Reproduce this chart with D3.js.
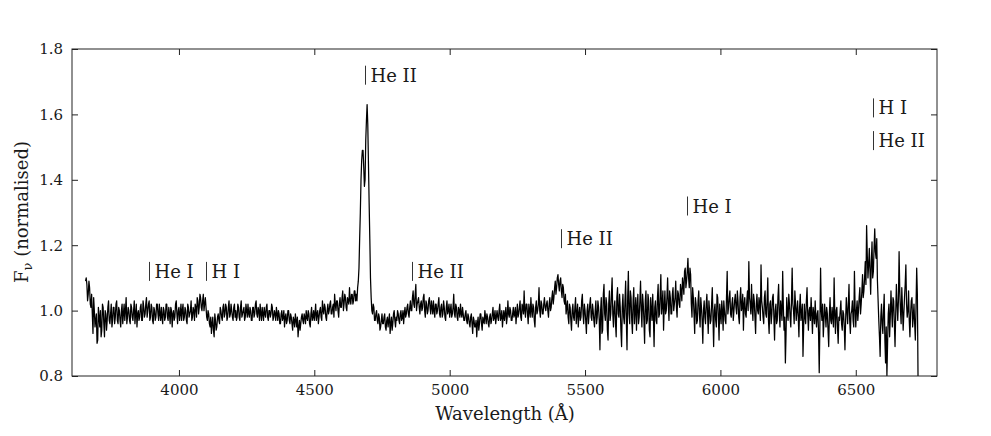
<!DOCTYPE html>
<html><head><meta charset="utf-8">
<script src="https://cdn.jsdelivr.net/npm/d3@7"></script>
<style>
body{margin:0;background:#fff}
svg{display:block}
svg text{font-family:"DejaVu Serif","Liberation Serif","Noto Serif",serif;fill:#1a1a1a}
</style>
</head><body>
<svg id="chart" width="991" height="436"></svg>
<script>
// ---- data ----
const wavelengthStart = 3655;   // Å, first sample
const wavelengthStep = 5;       // Å between samples of `flux`
// samples at 3655, 3660, ... 6730 Å
const flux = [
  1.09,1.08,1.05,1.07,1.01,0.99,1.04,0.95,0.99,0.91,0.98,1.00,0.94,1.01,0.92,0.99,0.97,1.03,0.96,1.02,
  0.97,1.01,0.98,1.03,0.96,1.00,0.95,1.02,0.99,0.97,1.04,0.98,1.00,0.96,1.01,0.97,1.03,0.99,0.95,1.00,
  0.98,1.02,0.97,1.01,0.99,1.04,1.00,1.03,0.98,1.01,0.96,1.00,0.98,1.02,0.97,0.99,1.01,0.96,1.00,0.98,
  1.02,0.97,0.99,1.01,0.95,1.00,0.98,1.03,0.96,1.01,0.99,0.97,1.02,0.98,1.00,0.96,1.01,0.99,1.03,0.98,
  1.00,1.02,0.98,1.03,1.01,1.04,1.00,1.05,1.02,1.01,0.97,0.99,0.95,0.93,0.98,0.92,0.97,0.95,0.99,0.96,
  1.00,0.97,1.02,0.99,1.01,0.98,1.03,0.99,1.00,0.97,1.02,1.00,0.98,1.01,0.97,1.03,0.99,1.01,0.98,1.00,
  1.02,0.98,1.00,0.97,1.01,0.99,1.03,0.98,1.00,1.02,0.97,0.99,1.01,0.98,1.02,0.97,1.00,0.99,1.01,0.98,
  0.99,1.01,0.97,0.99,0.96,1.00,0.98,0.95,0.99,0.97,1.00,0.96,0.98,0.94,0.97,0.99,0.95,0.92,0.97,0.96,
  0.99,0.96,0.98,1.00,0.97,0.99,0.95,1.01,0.98,0.97,1.02,0.99,0.96,1.00,0.98,1.03,0.99,1.01,0.97,1.02,
  1.00,1.03,0.99,1.02,1.05,1.00,1.03,0.98,1.04,1.01,1.06,1.02,1.04,1.00,1.03,1.07,1.02,1.05,1.03,1.06,
  1.05,1.07,1.13,1.30,1.46,1.49,1.38,1.52,1.63,1.45,1.22,1.04,0.99,1.01,0.97,1.00,0.96,0.98,0.95,0.99,
  0.96,0.99,0.94,0.98,0.97,0.93,0.98,0.96,1.00,0.95,0.97,0.99,0.96,1.00,0.98,0.96,1.01,0.99,1.02,0.98,
  1.03,1.00,1.06,1.01,1.08,1.02,1.04,0.99,1.03,1.01,1.05,0.98,1.02,1.00,1.04,0.99,1.01,1.03,0.98,1.02,
  1.00,1.04,0.98,1.02,0.99,1.01,0.97,1.03,1.00,0.98,1.02,0.99,1.05,0.98,1.01,0.97,1.00,1.02,0.98,0.99,
  0.97,1.00,0.96,0.98,0.95,0.99,0.93,0.97,0.95,0.92,0.98,0.96,0.99,0.94,0.97,1.00,0.96,0.98,0.95,0.99,
  0.97,1.01,0.98,0.96,1.00,0.97,1.02,0.98,0.95,1.00,0.99,0.96,1.03,0.98,1.00,0.97,1.01,0.99,0.96,1.02,
  0.99,1.03,0.97,1.01,1.06,0.98,1.02,0.96,1.00,1.04,0.98,1.01,0.95,1.03,1.00,1.07,0.98,1.02,0.99,1.04,
  1.00,1.03,0.98,1.04,1.01,1.06,1.04,1.09,1.07,1.11,1.06,1.10,1.04,1.07,1.02,0.99,1.03,0.96,1.01,0.94,
  1.02,0.97,1.04,0.99,0.95,1.01,0.98,1.05,0.96,1.00,0.93,1.02,0.99,1.04,0.97,1.00,0.95,1.03,0.98,1.01,
  0.88,1.04,0.94,1.08,0.97,1.02,0.91,1.06,0.99,1.10,0.95,1.03,0.92,1.07,0.98,1.01,0.89,1.05,0.96,1.09,
  0.88,1.12,0.96,1.04,0.93,1.07,1.00,0.94,1.05,0.98,1.09,0.95,1.02,0.90,1.06,0.97,1.03,0.92,1.00,1.05,
  0.89,1.03,0.96,1.08,0.99,1.11,1.02,0.94,1.06,1.00,1.10,0.97,1.04,0.99,1.07,1.02,1.09,0.98,1.05,1.01,
  1.06,1.10,1.05,1.13,1.09,1.16,1.07,1.11,0.98,1.04,0.93,1.02,0.97,1.06,0.95,1.01,0.90,1.03,0.96,1.05,
  0.93,1.00,0.97,1.07,0.89,1.02,0.95,1.04,0.91,0.99,1.03,0.94,1.00,0.96,1.12,1.01,1.06,0.98,1.04,1.00,
  1.05,0.99,1.03,0.96,1.07,1.01,0.94,1.04,0.98,1.06,1.15,1.02,1.08,0.97,1.03,0.93,1.05,0.99,1.02,1.14,
  1.01,0.96,1.06,0.98,1.10,0.93,1.03,0.99,1.05,0.91,1.02,0.97,1.08,0.95,1.00,1.12,0.94,0.84,1.04,0.97,
  1.02,0.95,1.13,1.00,1.06,0.97,1.03,0.92,1.05,0.99,0.86,1.02,0.96,1.07,0.94,1.01,1.04,0.93,0.99,1.03,
  0.95,1.00,0.81,1.13,0.97,0.92,1.02,0.95,0.99,0.89,1.04,0.96,0.98,1.10,0.93,1.01,0.90,0.97,1.03,0.94,
  0.99,0.88,1.04,0.96,1.08,0.93,1.00,0.97,1.12,0.95,1.03,1.00,1.07,1.02,1.11,1.06,1.15,1.26,1.10,1.19,
  1.05,1.21,1.12,1.25,1.16,1.09,0.97,0.86,1.02,0.93,1.05,0.84,0.80,0.99,0.92,1.06,0.95,1.03,0.89,1.08,
  0.97,1.18,1.00,1.07,0.94,1.04,1.14,0.98,1.06,0.92,1.03,0.95,1.02,0.91,1.13,0.79
];
// samples half-way between those above: 3657.5, 3662.5, ... 6727.5 Å
const fluxHalf = [
  1.10,1.03,1.09,1.02,1.05,0.93,1.00,0.97,0.90,1.01,0.95,0.92,1.02,0.96,1.00,0.94,1.01,0.97,0.99,0.95,
  1.01,0.96,1.02,0.97,1.01,0.97,1.00,0.96,1.02,1.00,0.96,1.01,0.97,1.02,0.98,1.00,0.96,1.02,0.99,0.97,
  1.01,0.97,1.03,0.98,1.02,0.98,1.02,0.97,1.02,0.97,1.01,0.97,1.02,0.99,1.02,0.97,0.98,1.01,0.97,1.02,
  0.98,1.01,0.96,1.00,0.99,0.97,1.02,0.99,1.00,0.97,1.02,1.00,0.97,1.01,0.97,1.02,0.98,1.00,0.97,1.01,
  0.97,1.01,1.04,0.99,1.05,1.01,1.03,1.00,1.04,0.98,1.00,0.96,0.98,0.96,0.94,0.99,0.94,0.98,0.97,1.01,
  0.98,1.01,0.98,1.02,0.97,1.01,0.98,1.02,0.98,1.01,0.98,0.97,1.02,0.98,1.01,0.98,1.00,0.97,1.02,0.98,
  0.99,1.01,0.97,1.01,0.98,1.02,0.99,1.01,0.97,0.99,1.01,0.97,0.99,1.01,0.98,1.00,0.98,1.02,0.97,1.00,
  0.97,0.99,1.00,0.96,0.99,0.97,1.00,0.98,0.96,1.00,0.97,0.99,0.96,0.98,0.95,0.97,0.98,0.95,0.94,0.98,
  0.97,0.99,0.96,0.98,1.00,0.96,0.99,0.97,1.00,0.99,0.97,1.00,0.98,1.01,0.97,1.00,1.02,0.98,1.00,0.99,
  1.02,0.99,1.01,0.98,1.02,1.03,1.00,1.02,1.01,1.04,1.00,1.05,1.01,1.04,1.02,1.03,1.05,1.02,1.06,1.03,
  1.03,1.09,1.22,1.40,1.49,1.44,1.40,1.58,1.57,1.33,1.10,1.00,1.02,0.97,0.99,0.97,0.99,0.94,0.97,0.96,
  0.98,0.95,0.97,0.95,0.99,0.96,0.94,0.99,0.97,0.98,1.00,0.97,0.99,0.97,1.00,0.99,0.98,1.01,0.99,1.01,
  1.00,1.04,1.02,1.05,1.00,1.03,1.01,1.02,1.00,1.04,1.00,1.03,0.99,1.03,1.01,1.03,0.99,1.00,1.02,0.99,
  1.02,0.99,1.01,0.98,1.03,0.98,1.01,0.99,1.02,1.00,0.98,1.01,0.99,1.02,0.98,1.01,0.98,0.99,1.01,0.97,
  0.99,0.97,0.99,0.96,0.98,0.96,0.98,0.95,0.97,0.96,0.94,0.99,0.96,0.98,0.96,0.98,0.99,0.96,0.98,0.96,
  0.99,0.97,1.00,0.98,0.98,1.00,0.97,1.00,0.98,0.97,1.01,0.98,0.99,1.01,0.97,0.99,0.98,1.01,0.99,0.98,
  1.01,0.98,1.02,0.99,1.00,1.02,0.99,1.02,0.98,1.00,1.02,0.97,1.01,0.99,1.02,1.00,1.03,0.99,1.02,1.01,
  1.02,1.00,1.02,1.00,1.04,1.02,1.07,1.05,1.10,1.08,1.09,1.06,1.08,1.03,1.05,1.01,0.98,1.02,0.97,1.00,
  0.98,1.01,0.96,1.02,0.99,0.97,1.03,0.99,1.02,0.97,1.00,0.96,1.02,0.98,1.02,0.97,1.00,0.96,1.03,0.97,
  1.00,0.93,1.05,0.99,1.04,0.94,1.02,0.97,1.05,0.99,1.01,0.96,1.04,0.99,1.05,0.94,1.01,0.98,1.03,0.97,
  1.04,0.99,1.06,0.97,1.03,0.96,1.04,1.01,0.96,1.03,1.00,1.05,0.97,1.03,0.96,1.05,0.94,1.04,0.97,0.98,
  1.01,0.97,1.04,0.98,1.05,0.99,1.06,1.01,0.99,1.04,1.02,1.06,0.99,1.05,1.00,1.04,1.01,1.06,1.02,1.08,
  1.03,1.08,1.12,1.07,1.12,1.10,1.13,1.02,1.07,0.99,1.04,0.96,1.03,0.99,1.04,0.97,1.00,0.98,1.02,0.99,
  1.03,0.96,1.02,0.98,1.00,0.97,1.05,0.98,1.02,0.96,1.00,1.03,0.97,1.04,0.99,1.04,0.99,1.02,0.97,1.03,
  1.01,1.06,0.98,1.04,1.00,1.05,1.02,0.99,1.03,1.00,1.04,0.99,1.01,1.05,0.98,1.02,1.00,1.04,0.97,1.03,
  0.98,1.04,0.99,1.03,0.97,1.02,0.96,1.04,0.98,1.00,0.96,1.04,0.99,1.03,0.97,1.01,0.98,0.93,0.99,1.05,
  0.98,1.03,1.02,0.96,1.02,1.00,0.98,1.01,0.97,1.02,0.95,0.98,1.03,0.99,1.00,0.97,0.99,1.01,0.96,0.98,
  0.99,0.93,0.96,1.00,1.02,0.97,0.99,1.01,0.94,0.99,0.97,1.01,0.95,0.99,1.00,0.95,0.98,1.00,0.96,1.00,
  0.95,0.97,1.00,1.02,0.97,0.99,1.03,0.95,1.01,1.00,0.97,1.04,0.99,1.06,1.04,1.10,1.08,1.17,1.14,1.12,
  1.15,1.10,1.19,1.18,1.22,1.03,0.92,0.98,0.96,1.00,0.91,0.95,0.90,1.02,0.98,1.00,1.04,0.96,0.99,1.02,
  1.03,1.06,0.96,1.01,0.99,1.08,1.02,1.00,0.97,0.99,1.04,0.98,0.96,1.01,1.05
];
const xDomain = [3605, 6800];
const yDomain = [0.8, 1.8];
const xTickValues = [4000, 4500, 5000, 5500, 6000, 6500];
const yTickValues = [0.8, 1.0, 1.2, 1.4, 1.6, 1.8];
const lineNames = ["He I", "H I", "He II", "He II", "He II", "He I", "H I", "He II"];
const lineWavelengths = [3889, 4101, 4686, 4860, 5411, 5876, 6563, 6563];
const lineLabelLevels = [1.1, 1.1, 1.7, 1.1, 1.2, 1.3, 1.6, 1.5];

// ---- drawing ----
const svg = d3.select("#chart");
const M = {left: 72, right: 937, top: 49, bottom: 376};
const x = d3.scaleLinear().domain(xDomain).range([M.left, M.right]);
const y = d3.scaleLinear().domain(yDomain).range([M.bottom, M.top]);

const spectrum = [];
flux.forEach((f, i) => {
  const w = wavelengthStart + i * wavelengthStep;
  spectrum.push({w, f});
  if (i < fluxHalf.length) spectrum.push({w: w + wavelengthStep / 2, f: fluxHalf[i]});
});

svg.append("defs").append("clipPath").attr("id", "plotclip")
  .append("rect").attr("x", M.left).attr("y", M.top)
  .attr("width", M.right - M.left).attr("height", M.bottom - M.top);

svg.append("path").datum(spectrum)
  .attr("clip-path", "url(#plotclip)")
  .attr("fill", "none").attr("stroke", "#000").attr("stroke-width", 1.25)
  .attr("stroke-linejoin", "round")
  .attr("d", d3.line().x(d => x(d.w)).y(d => y(d.f)));

function styleAxis(g) {
  g.attr("font-family", null);
  g.select(".domain").remove();
  g.selectAll(".tick line").attr("stroke", "#222").attr("stroke-width", 1);
  g.selectAll(".tick text").attr("font-size", 15).attr("fill", "#1a1a1a");
}

svg.append("g").attr("transform", `translate(0,${M.bottom})`)
  .call(d3.axisBottom(x).tickValues(xTickValues).tickSize(-6).tickPadding(8).tickFormat(d3.format("d")))
  .call(styleAxis);
svg.append("g").attr("transform", `translate(0,${M.top})`)
  .call(d3.axisTop(x).tickValues(xTickValues).tickSize(-6).tickFormat(""))
  .call(styleAxis);
svg.append("g").attr("transform", `translate(${M.left},0)`)
  .call(d3.axisLeft(y).tickValues(yTickValues).tickSize(-6).tickPadding(9).tickFormat(d3.format(".1f")))
  .call(styleAxis);
svg.append("g").attr("transform", `translate(${M.right},0)`)
  .call(d3.axisRight(y).tickValues(yTickValues).tickSize(-6).tickFormat(""))
  .call(styleAxis);

svg.append("rect").attr("x", M.left).attr("y", M.top)
  .attr("width", M.right - M.left).attr("height", M.bottom - M.top)
  .attr("fill", "none").attr("stroke", "#222").attr("stroke-width", 1);

// line identifications
const ann = svg.append("g");
lineNames.forEach((name, i) => {
  const px = Math.round(x(lineWavelengths[i])) + 0.5;
  const py = y(lineLabelLevels[i]);
  ann.append("line").attr("x1", px).attr("x2", px)
    .attr("y1", py + 3).attr("y2", py - 16)
    .attr("stroke", "#333").attr("stroke-width", 1);
  ann.append("text").attr("x", px + 5).attr("y", py)
    .attr("font-size", 18).text(name);
});

// axis labels
svg.append("text").attr("x", 505).attr("y", 420).attr("text-anchor", "middle")
  .attr("font-size", 18).text("Wavelength (Å)");

const yl = svg.append("text").attr("transform", "translate(28,212) rotate(-90)")
  .attr("text-anchor", "middle").attr("font-size", 18);
yl.append("tspan").text("F");
yl.append("tspan").attr("font-size", 13).attr("dy", 4).text("ν");
yl.append("tspan").attr("dy", -4).text(" (normalised)");
</script>
</body></html>
